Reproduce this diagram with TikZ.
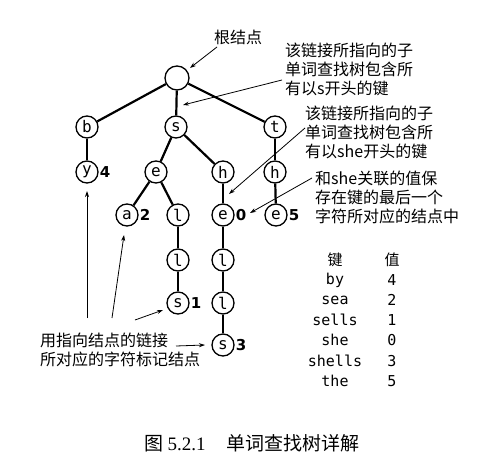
\documentclass[tikz,border=0pt]{standalone}
\usepackage{fontspec}
\setmainfont{Noto Sans CJK SC}
\newfontfamily\monof{DejaVu Sans Mono}
\newfontfamily\digf{DejaVu Sans}
\newfontfamily\capserif{Liberation Serif}
\usetikzlibrary{arrows.meta}
\begin{document}
\begin{tikzpicture}[x=1pt,y=-1pt,
 tn/.style={circle,draw,line width=1.3pt,minimum size=22pt,inner sep=0pt,font=\monof\fontsize{16}{16}\selectfont},
 rootn/.style={tn,minimum size=24pt},
 edge/.style={line width=2.2pt},
 ann/.style={-{Stealth[length=6pt,width=4pt]},line width=0.8pt},
 val/.style={font=\digf\bfseries\fontsize{15}{15}\selectfont,anchor=west,inner sep=1pt},
 lbl/.style={font=\fontsize{16}{19}\selectfont,align=left,anchor=north west,inner sep=0pt},
 tab/.style={font=\monof\fontsize{15}{15}\selectfont,inner sep=0pt},
 tabh/.style={font=\fontsize{15}{15}\selectfont,inner sep=0pt},
 ]
\useasboundingbox (0,0) rectangle (488,466);
% trie nodes
\node[rootn] (r) at (177,78) {};
\node[tn] (b) at (87,127) {b};
\node[tn] (s) at (176,127) {s};
\node[tn] (t) at (275,127) {t};
\node[tn] (y) at (87,172) {y};
\node[tn] (e) at (156,172) {e};
\node[tn] (h) at (223,172) {h};
\node[tn] (h2) at (275,172) {h};
\node[tn] (a) at (127,215) {a};
\node[tn] (l1) at (178,215) {l};
\node[tn] (e2) at (223,215) {e};
\node[tn] (e3) at (276,215) {e};
\node[tn] (l2) at (178,260) {l};
\node[tn] (l3) at (223,260) {l};
\node[tn] (s1) at (178,303) {s};
\node[tn] (l4) at (223,303) {l};
\node[tn] (s3) at (223,345) {s};
% edges
\draw[edge] (r) -- (b);
\draw[edge] (r) -- (s);
\draw[edge] (r) -- (t);
\draw[edge] (b) -- (y);
\draw[edge] (s) -- (e);
\draw[edge] (s) -- (h);
\draw[edge] (t) -- (h2);
\draw[edge] (e) -- (a);
\draw[edge] (e) -- (l1);
\draw[edge] (h) -- (e2);
\draw[edge] (h2) -- (e3);
\draw[edge] (l1) -- (l2);
\draw[edge] (l2) -- (s1);
\draw[edge] (e2) -- (l3);
\draw[edge] (l3) -- (l4);
\draw[edge] (l4) -- (s3);
% values
\node[val] (vy) at (y.east) {4};
\node[val] (va) at (a.east) {2};
\node[val] (vs1) at (s1.east) {1};
\node[val] (vs3) at (s3.east) {3};
\node[val] (ve2) at (e2.east) {0};
\node[val] (ve3) at (e3.east) {5};
% annotations
\node[font=\fontsize{16}{19}\selectfont,inner sep=0pt] (lroot) at (238,37) {根结点};
\node[lbl] (l1t) at (285,43) {该链接所指向的子\\单词查找树包含所\\有以s开头的键};
\node[lbl] (l2t) at (305,106) {该链接所指向的子\\单词查找树包含所\\有以she开头的键};
\node[lbl] (l3t) at (315,171) {和she关联的值保\\存在键的最后一个\\字符所对应的结点中};
\node[lbl] (l4t) at (40,333) {用指向结点的链接\\所对应的字符标记结点};
\coordinate (c0a) at (217,47); \coordinate (c0b) at (190,68);
\coordinate (c1a) at (282,80); \coordinate (c1b) at (183,105);
\coordinate (c2a) at (305,128); \coordinate (c2b) at (229,194);
\coordinate (c3a) at (312,178); \coordinate (c3b) at (250,213);
\coordinate (c4a) at (87,318); \coordinate (c4b) at (87,191);
\coordinate (c5a) at (112,318); \coordinate (c5b) at (124,235);
\coordinate (c6a) at (135,320); \coordinate (c6b) at (163,310);
\coordinate (c7a) at (176,346); \coordinate (c7b) at (205,345);
\draw[ann] (c0a) -- (c0b);
\draw[ann] (c1a) -- (c1b);
\draw[ann] (c2a) -- (c2b);
\draw[ann] (c3a) -- (c3b);
\draw[ann] (c4a) -- (c4b);
\draw[ann] (c5a) -- (c5b);
\draw[ann] (c6a) -- (c6b);
\draw[ann] (c7a) -- (c7b);
% table
\node[tabh] (kh) at (335,260) {键};
\node[tabh] (vh) at (392,260) {值};
\node[tab] (k1) at (335,280) {by};
\node[tab] (k2) at (335,300) {sea};
\node[tab] (k3) at (335,320) {sells};
\node[tab] (k4) at (335,340) {she};
\node[tab] (k5) at (335,361) {shells};
\node[tab] (k6) at (335,381) {the};
\node[tab] (v1) at (392,280) {4};
\node[tab] (v2) at (392,300) {2};
\node[tab] (v3) at (392,320) {1};
\node[tab] (v4) at (392,340) {0};
\node[tab] (v5) at (392,361) {3};
\node[tab] (v6) at (392,381) {5};
% caption
\node[font=\fontsize{19}{19}\selectfont,inner sep=0pt] (cap) at (252,443) {图 {\capserif 5.2.1}\hspace{1.1em}单词查找树详解};
\end{tikzpicture}
\end{document}
